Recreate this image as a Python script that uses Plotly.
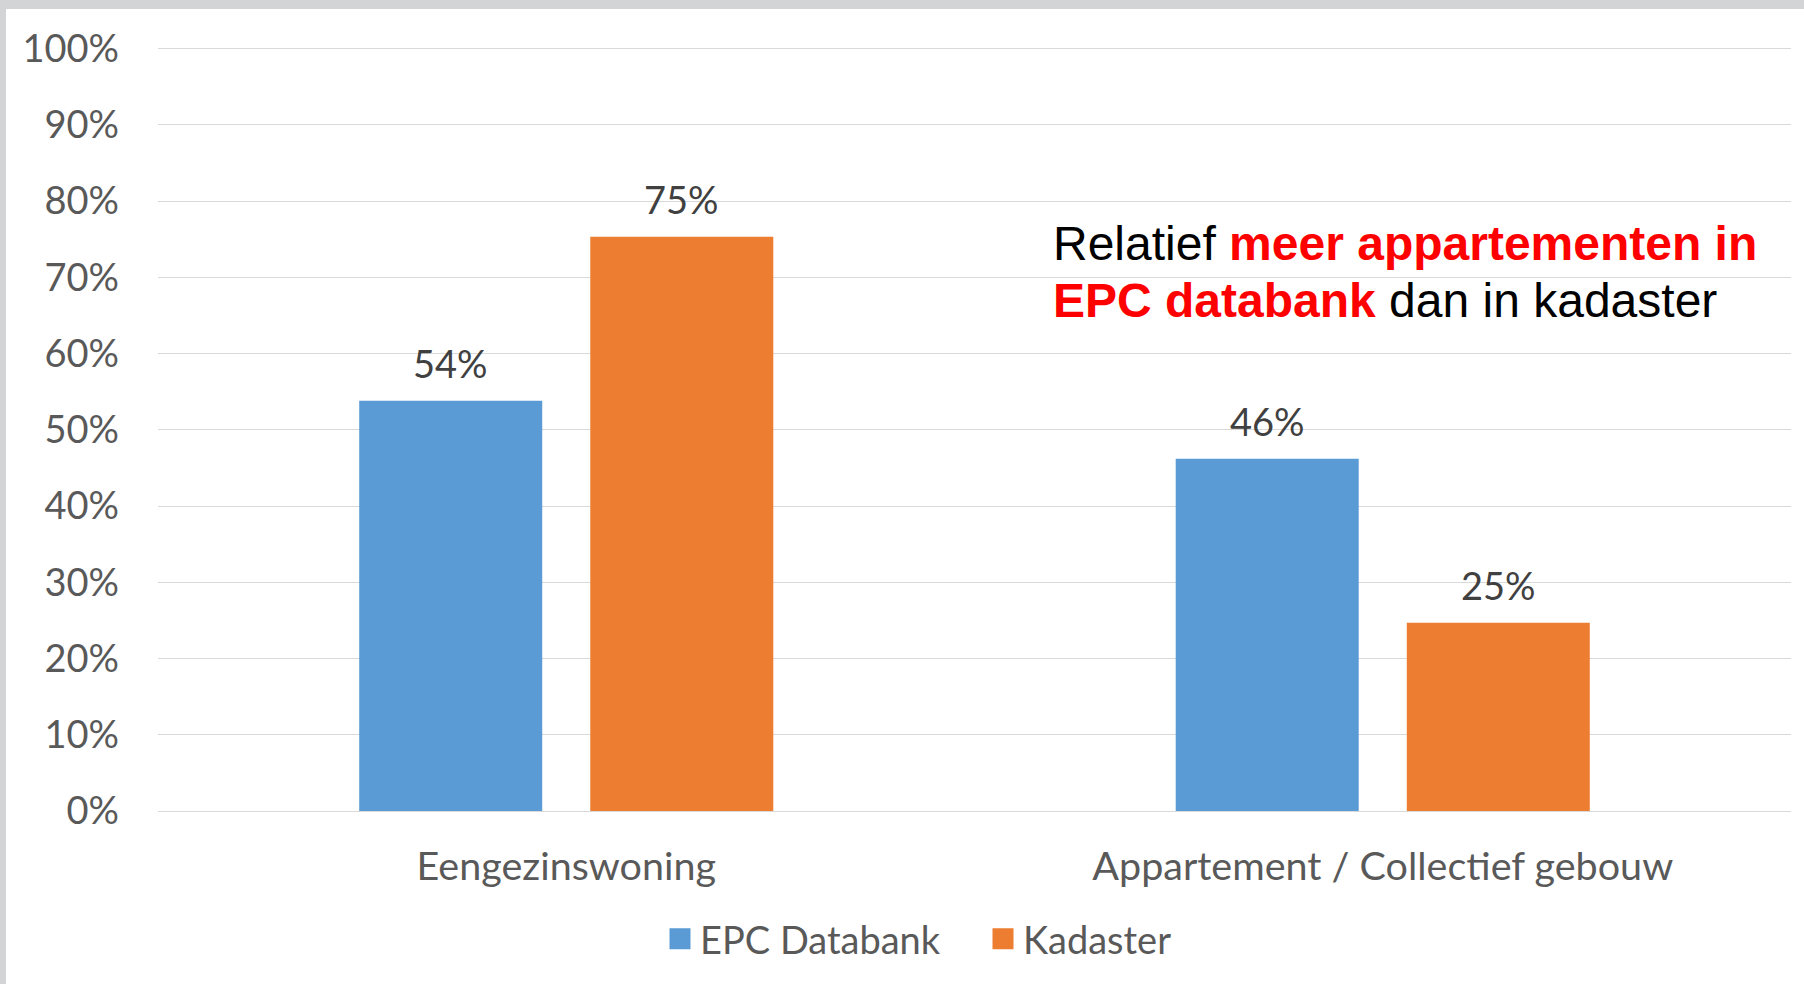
import plotly.graph_objects as go

categories = ["Eengezinswoning", "Appartement / Collectief gebouw"]
series_names = ["EPC Databank", "Kadaster"]
epc_values = [0.538, 0.462]
kadaster_values = [0.753, 0.247]
series_colors = ["#5b9bd5", "#ed7d31"]
y_ticks = [i / 10 for i in range(11)]

W, H = 1804, 984
L, R, T, B = 158, 13, 47, 173
plot_w = W - L - R
plot_h = H - T - B

def px_x(px):
    return (px - L) / plot_w

def px_y(py):
    return (H - B - py) / plot_h

fig = go.Figure()
all_values = [epc_values, kadaster_values]
for name, vals, col in zip(series_names, all_values, series_colors):
    fig.add_trace(go.Bar(
        x=categories, y=vals, name=name,
        marker=dict(color=col, line=dict(width=0)),
        hoverinfo="skip", showlegend=False,
    ))
# legend entries with larger square swatches
for name, col in zip(series_names, series_colors):
    fig.add_trace(go.Scatter(
        x=[None], y=[None], name=name, mode="markers",
        marker=dict(symbol="square", size=16, color=col, line=dict(color=col, width=5)),
        hoverinfo="skip", showlegend=True,
    ))

# data labels
group_slot = plot_w / len(categories) * (1 - 0.434) / 2
for si, vals in enumerate(all_values):
    off = (si - 0.5) * group_slot
    for cat, v in zip(categories, vals):
        fig.add_annotation(
            x=cat, y=v, xref="x", yref="y",
            text=f"{v*100:.0f}%", showarrow=False,
            xshift=off, yshift=13, yanchor="bottom",
            font=dict(family="Lato", size=38, color="#404040"),
        )

# callout text
fig.add_annotation(
    xref="paper", yref="paper", x=px_x(1051), y=px_y(243.7),
    xanchor="left", yanchor="middle", showarrow=False,
    text="Relatief <b><span style='color:#ff0000'>meer appartementen in</span></b>",
    font=dict(family="Liberation Sans, Arial", size=48, color="#000000"),
)
fig.add_annotation(
    xref="paper", yref="paper", x=px_x(1051), y=px_y(300.4),
    xanchor="left", yanchor="middle", showarrow=False,
    text="<b><span style='color:#ff0000'>EPC databank</span></b> dan in kadaster",
    font=dict(family="Liberation Sans, Arial", size=48, color="#000000"),
)

# gray frame strips (top and left)
fig.add_shape(type="rect", xref="paper", yref="paper",
              x0=px_x(0), x1=px_x(1804), y0=px_y(9), y1=px_y(0),
              fillcolor="#d3d4d6", line=dict(width=0), layer="below")
fig.add_shape(type="rect", xref="paper", yref="paper",
              x0=px_x(0), x1=px_x(6), y0=px_y(984), y1=px_y(0),
              fillcolor="#d3d4d6", line=dict(width=0), layer="below")

fig.update_layout(
    width=W, height=H,
    margin=dict(l=L, r=R, t=T, b=B, pad=0),
    paper_bgcolor="white", plot_bgcolor="white",
    barmode="group", bargap=0.434, bargroupgap=0.208,
    font=dict(family="Lato", size=38, color="#595959"),
    showlegend=True,
    legend=dict(
        orientation="h", x=px_x(660), y=px_y(939), xanchor="left", yanchor="middle",
        xref="paper", yref="paper",
        font=dict(family="Lato", size=38, color="#595959"),
        entrywidth=278, entrywidthmode="pixels",
        bgcolor="rgba(0,0,0,0)", itemsizing="trace",
    ),
    xaxis=dict(
        showgrid=False, showline=False, zeroline=False, ticks="",
        tickfont=dict(family="Lato", size=39.5, color="#595959"),
        ticklabelstandoff=28,
    ),
    yaxis=dict(
        range=[0, 1.002], tickvals=y_ticks, tickformat=".0%",
        showgrid=True, gridcolor="#d9d9d9", gridwidth=1.3,
        zeroline=True, zerolinecolor="#d9d9d9", zerolinewidth=1.3,
        showline=False, ticks="",
        tickfont=dict(family="Lato", size=38, color="#595959"),
        ticklabelstandoff=38,
    ),
)

fig.write_html(
    "out.html",
    config={"displayModeBar": False},
    post_script="document.body.style.margin='0';document.body.style.overflow='hidden';",
)
